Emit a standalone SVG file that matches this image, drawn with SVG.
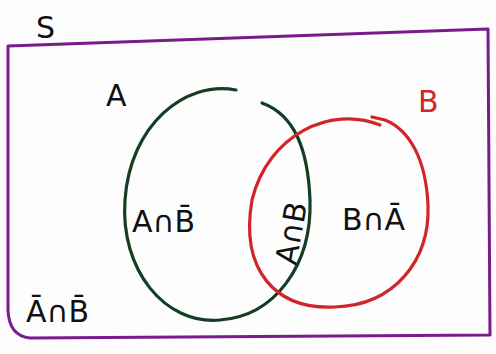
<svg xmlns="http://www.w3.org/2000/svg" width="496" height="354" viewBox="0 0 496 354">
<style>
.lbl{font-family:"DejaVu Sans","Liberation Sans",sans-serif;font-size:30px;fill:#111}
.ring{fill:none;stroke-width:3.2;stroke-linecap:round}
</style>
<rect width="496" height="354" fill="#fdfdfd"/>
<g id="universe">
<path d="M8,46 L488,29 L490,335 L30,338 Q9,336 8,310 Z" fill="none" stroke="#7a1a8c" stroke-width="3" stroke-linejoin="round"/>
<text class="lbl" x="36" y="38" font-size="28">S</text>
</g>
<g id="setA">
<path class="ring" stroke="#143d22" d="M236,90 C185,80 130,125 125,200 C120,270 165,325 220,320 C275,316 312,265 310,200 C308,150 295,115 262,103"/>
<text class="lbl" x="106" y="106" font-size="28">A</text>
</g>
<g id="setB">
<path class="ring" stroke="#d0262a" d="M380,125 C330,105 268,135 252,200 C240,270 275,310 335,307 C395,305 430,260 428,205 C426,160 410,130 385,120 L372,117"/>
<text class="lbl" x="418" y="112" font-size="28" style="fill:#d0262a">B</text>
</g>
<g id="regions">
<text class="lbl" x="132" y="232">A∩B̄</text>
<text class="lbl" transform="translate(296,266) rotate(-80)">A∩B</text>
<text class="lbl" x="342" y="230">B∩Ā</text>
<text class="lbl" x="26" y="322" font-size="24">Ā∩B̄</text>
</g>
</svg>
